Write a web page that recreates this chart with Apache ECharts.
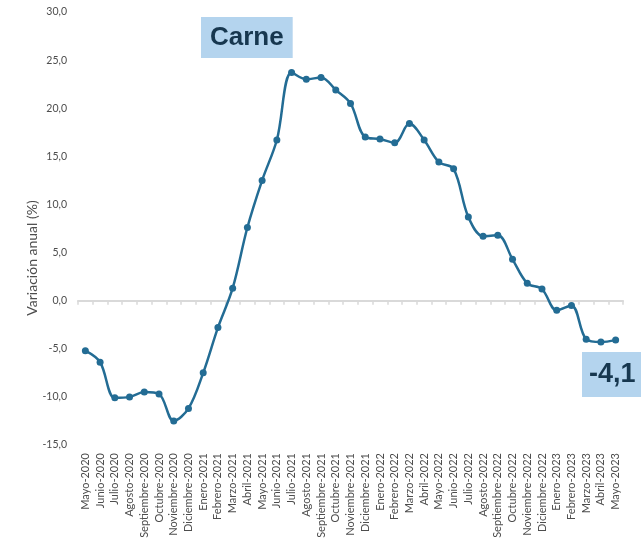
<!DOCTYPE html>
<html>
<head>
<meta charset="utf-8">
<script src="https://cdn.jsdelivr.net/npm/echarts@6/dist/echarts.min.js"></script>
<style>
html,body{margin:0;padding:0;background:#fff;}
#c{width:641px;height:541px;}
</style>
</head>
<body>
<div id="c"></div>
<script>
const categories = ['Mayo-2020','Junio-2020','Julio-2020','Agosto-2020','Septiembre-2020','Octubre-2020','Noviembre-2020','Diciembre-2020',
 'Enero-2021','Febrero-2021','Marzo-2021','Abril-2021','Mayo-2021','Junio-2021','Julio-2021','Agosto-2021','Septiembre-2021','Octubre-2021','Noviembre-2021','Diciembre-2021',
 'Enero-2022','Febrero-2022','Marzo-2022','Abril-2022','Mayo-2022','Junio-2022','Julio-2022','Agosto-2022','Septiembre-2022','Octubre-2022','Noviembre-2022','Diciembre-2022',
 'Enero-2023','Febrero-2023','Marzo-2023','Abril-2023','Mayo-2023'];
const values = [-5.2,-6.4,-10.1,-10.0,-9.5,-9.7,-12.5,-11.2,
 -7.5,-2.8,1.3,7.6,12.5,16.7,23.7,23.0,23.2,21.9,20.5,17.0,
 16.8,16.4,18.4,16.7,14.4,13.7,8.7,6.7,6.8,4.3,1.8,1.2,
 -1.0,-0.5,-4.0,-4.3,-4.1];
const yTicks = {min:-15, max:30, interval:5};
const titleText = 'Carne';
const yName = 'Variación anual (%)';

const fmt = v => v.toFixed(1).replace('.', ',');
const lastVal = values[values.length-1];

const chart = echarts.init(document.getElementById('c'));
chart.setOption({
  animation:false,
  backgroundColor:'#ffffff',
  title:[
    {text:titleText, left:201, top:17, padding:[8,9,7,9], backgroundColor:'#b4d4ee',
     textStyle:{fontFamily:'"Liberation Sans", Arial, sans-serif', fontWeight:'bold', fontSize:26, color:'#17374f'}},
    {text:fmt(lastVal), left:582, top:352, padding:[9,8,9,7], backgroundColor:'#b4d4ee',
     textStyle:{fontFamily:'"Liberation Sans", Arial, sans-serif', fontWeight:'bold', fontSize:27, color:'#17374f'}}
  ],
  grid:{left:78, right:18, top:12, bottom:96, containLabel:false},
  xAxis:[
    {type:'category', data:categories, position:'bottom',
     axisLine:{show:false, onZero:false}, axisTick:{show:false},
     axisLabel:{rotate:90, interval:0, margin:8, fontSize:11, color:'#4d4d4d', fontFamily:'Lato'}},
    {type:'category', data:categories, position:'bottom',
     axisLine:{show:true, onZero:true, lineStyle:{color:'#d9d9d9', width:2}},
     axisTick:{show:true, interval:0, length:4, lineStyle:{color:'#d9d9d9', width:1.5}},
     axisLabel:{show:false}}
  ],
  yAxis:{type:'value', min:yTicks.min, max:yTicks.max, interval:yTicks.interval,
    axisLine:{show:false}, axisTick:{show:false}, splitLine:{show:false},
    axisLabel:{formatter:v=>fmt(v), fontSize:10.5, color:'#4d4d4d', margin:11, fontFamily:'Lato'}},
  graphic:[{type:'text', x:32, y:258, rotation:Math.PI/2,
    style:{text:yName, fontSize:14, fill:'#4d4d4d', fontFamily:'Lato', textAlign:'center', textVerticalAlign:'middle'}}],
  series:[{type:'line', xAxisIndex:0, data:values, smooth:0.35,
    symbol:'circle', symbolSize:7,
    lineStyle:{color:'#236c94', width:2.5},
    itemStyle:{color:'#236c94'}}]
});
</script>
</body>
</html>
